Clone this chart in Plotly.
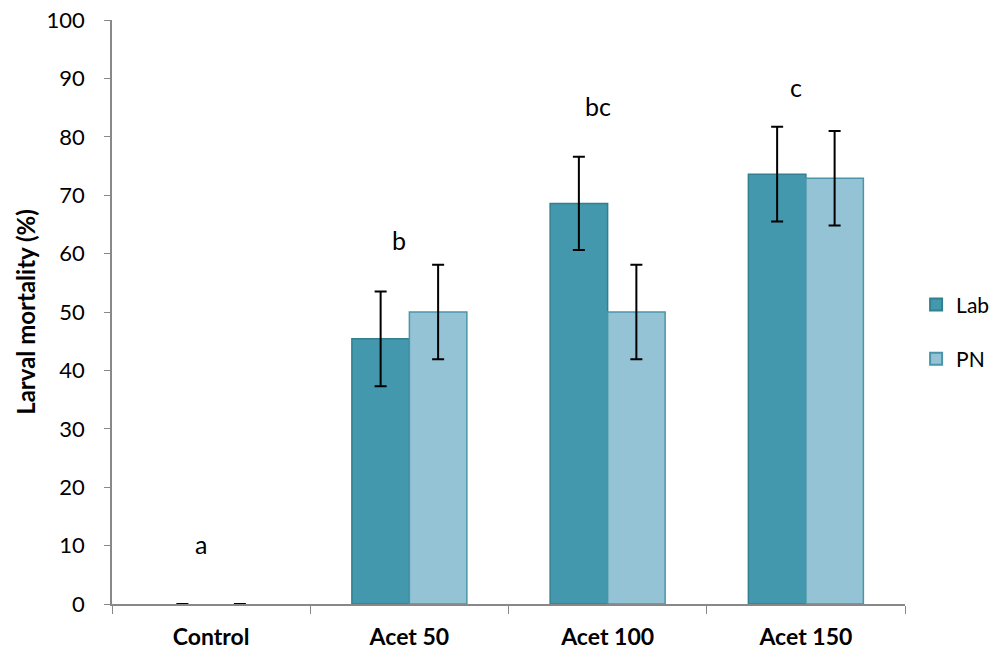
import plotly.graph_objects as go

categories = ["Control", "Acet 50", "Acet 100", "Acet 150"]
lab_values = [0, 45.4, 68.6, 73.6]
lab_errors = [0, 8.1, 8.0, 8.1]
pn_values = [0, 50.0, 50.0, 72.9]
pn_errors = [0, 8.1, 8.1, 8.1]
letters = ["a", "b", "bc", "c"]
letter_y = [10.3, 62.3, 85.3, 88.5]

FONT = "Lato, Open Sans, sans-serif"

edge_w = [0 if v == 0 else 1.5 for v in lab_values]
edge_w2 = [0 if v == 0 else 1.5 for v in pn_values]

fig = go.Figure()
fig.add_trace(go.Bar(
    name="Lab", x=categories, y=lab_values, legendgroup="lab",
    marker=dict(color="#4398AE", line=dict(color="#32808F", width=edge_w)),
    error_y=dict(type="data", array=lab_errors, visible=True, color="black", thickness=2, width=6),
))
fig.add_trace(go.Bar(
    name="PN", x=categories, y=pn_values, legendgroup="pn",
    marker=dict(color="#93C3D4", line=dict(color="#4A96A8", width=edge_w2)),
    error_y=dict(type="data", array=pn_errors, visible=True, color="black", thickness=2, width=6),
))

for c, t, yv in zip(categories, letters, letter_y):
    fig.add_annotation(x=c, y=yv, text=t, showarrow=False, xshift=-10,
                       font=dict(family=FONT, size=25, color="black"))

fig.update_layout(
    width=1007, height=655,
    margin=dict(l=112, r=102, t=20, b=51),
    plot_bgcolor="white", paper_bgcolor="white",
    barmode="group", bargap=0.42, bargroupgap=0,
    font=dict(family=FONT, size=22, color="black"),
    legend=dict(x=1.014, y=0.466, yanchor="middle", xanchor="left",
                font=dict(size=21), tracegroupgap=24, traceorder="grouped",
                itemsizing="constant", bgcolor="rgba(0,0,0,0)"),
    xaxis=dict(showline=True, linecolor="#888888", linewidth=1.5, automargin=False,
               ticks="outside", tickson="boundaries", ticklen=8, tickcolor="#888888",
               ticklabelstandoff=12,
               tickfont=dict(family=FONT, size=23, color="black", weight="bold"),
               showgrid=False),
    yaxis=dict(range=[0, 100], dtick=10, showline=True, linecolor="#888888", linewidth=1.5,
               automargin=False, ticklabeloverflow="allow", ticklabelstandoff=15,
               ticks="outside", ticklen=6, tickcolor="#888888", showgrid=False, zeroline=False,
               tickfont=dict(family=FONT, size=22, color="black"),
               title=dict(text="Larval mortality (%)", font=dict(family=FONT, size=24, weight="bold"),
                          standoff=4)),
)

fig.write_html("out.html", config={"displayModeBar": False},
               post_script="document.body.style.margin='0';document.body.style.overflow='hidden';")
